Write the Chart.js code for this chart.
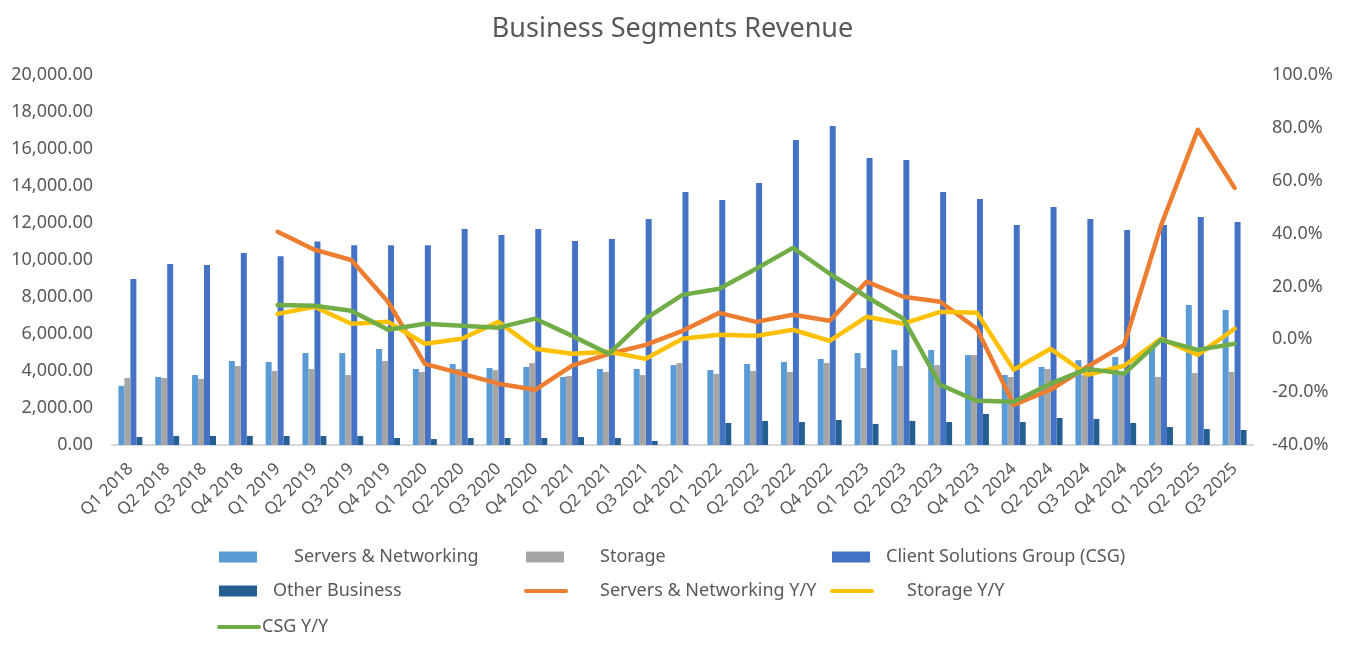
<!DOCTYPE html>
<html>
<head>
<meta charset="utf-8">
<title>Business Segments Revenue</title>
<script src="https://cdn.jsdelivr.net/npm/chart.js@4"></script>
<style>
  html, body { margin: 0; padding: 0; background: #fff; }
  #wrap { width: 1345px; height: 646px; position: relative; }
</style>
</head>
<body>
<div id="wrap"><canvas id="chart"></canvas></div>
<script>
var quarters = ['Q1 2018','Q2 2018','Q3 2018','Q4 2018','Q1 2019','Q2 2019','Q3 2019','Q4 2019',
  'Q1 2020','Q2 2020','Q3 2020','Q4 2020','Q1 2021','Q2 2021','Q3 2021','Q4 2021',
  'Q1 2022','Q2 2022','Q3 2022','Q4 2022','Q1 2023','Q2 2023','Q3 2023','Q4 2023',
  'Q1 2024','Q2 2024','Q3 2024','Q4 2024','Q1 2025','Q2 2025','Q3 2025'];

// revenue, $M
var servers = [3200, 3680, 3780, 4540, 4490, 4970, 4970, 5190,
  4110, 4380, 4160, 4220, 3680, 4110, 4110, 4320,
  4050, 4380, 4490, 4650, 4970, 5140, 5140, 4860,
  3780, 4220, 4590, 4760, 5410, 7570, 7300];
var storage = [3620, 3620, 3570, 4270, 4000, 4110, 3780, 4540,
  3950, 4110, 4050, 4430, 3730, 3950, 3780, 4430,
  3840, 4000, 3950, 4430, 4160, 4270, 4320, 4860,
  3680, 4110, 3780, 3950, 3680, 3890, 3950];
var csg = [8970, 9780, 9730, 10380, 10200, 11000, 10800, 10800,
  10800, 11680, 11350, 11680, 11030, 11140, 12220, 13680,
  13240, 14160, 16490, 17240, 15510, 15410, 13680, 13300,
  11890, 12860, 12220, 11620, 11890, 12320, 12050];
var other = [430, 490, 490, 490, 490, 490, 490, 380,
  320, 380, 380, 380, 430, 380, 220, 0,
  1190, 1300, 1240, 1350, 1140, 1300, 1240, 1680,
  1240, 1460, 1410, 1190, 970, 860, 810];

// year over year, %
var serversYoY = [null, null, null, null, 40.7, 33.9, 30.0, 14.2,
  -9.3, -13.0, -16.8, -19.1, -10.0, -5.5, -2.1, 3.2,
  10.0, 6.6, 9.3, 7.0, 21.8, 16.1, 14.2, 4.0,
  -24.8, -19.1, -10.4, -2.1, 43.0, 79.3, 57.3];
var storageYoY = [null, null, null, null, 9.6, 12.3, 5.9, 6.6,
  -1.7, 0.2, 6.6, -3.6, -5.5, -4.7, -7.4, 0.2,
  1.7, 1.3, 3.6, -0.6, 8.5, 5.9, 10.4, 10.0,
  -11.5, -3.6, -13.4, -10.0, 0.2, -5.9, 4.0];
var csgYoY = [null, null, null, null, 13.0, 12.7, 10.8, 3.6,
  5.9, 5.1, 4.4, 7.8, 1.3, -5.5, 7.8, 16.8,
  19.1, 26.7, 34.6, 24.8, 16.1, 7.8, -17.2, -23.3,
  -23.6, -16.8, -11.2, -13.0, -0.2, -4.0, -1.7];

var textColor = '#595959';
var fontFamily = '"Noto Sans", "Open Sans", sans-serif';

function barSet(label, data, color) {
  return {
    type: 'bar', label: label, data: data, yAxisID: 'y',
    backgroundColor: color, borderWidth: 0,
    categoryPercentage: 0.65, barPercentage: 1.0, order: 10
  };
}

function lineSet(label, data, color, order) {
  return {
    type: 'line', label: label, data: data, yAxisID: 'y1',
    borderColor: color, backgroundColor: color, borderWidth: 4.5,
    pointRadius: 0, tension: 0, spanGaps: false,
    borderJoinStyle: 'round', borderCapStyle: 'round', order: order
  };
}

// excel-like legend, 3 columns
var gridLegend = {
  id: 'gridLegend',
  afterDraw: function(chart, args, opts) {
    var ctx = chart.ctx;
    ctx.save();
    ctx.font = opts.fontSize + 'px ' + fontFamily;
    ctx.textBaseline = 'middle';
    ctx.fillStyle = textColor;
    chart.data.datasets.forEach(function(ds, i) {
      var col = i % 3;
      var row = Math.floor(i / 3);
      var x = opts.columns[col];
      var y = opts.rows[row];
      if (ds.type === 'line') {
        ctx.strokeStyle = ds.borderColor;
        ctx.lineWidth = 4;
        ctx.lineCap = 'round';
        ctx.beginPath();
        ctx.moveTo(x, y);
        ctx.lineTo(x + 40, y);
        ctx.stroke();
      } else {
        ctx.fillStyle = ds.backgroundColor;
        ctx.fillRect(x, y - 5.5, 38, 11);
      }
      ctx.fillStyle = textColor;
      ctx.fillText(ds.label, x + opts.textOffsets[i], y);
    });
    ctx.restore();
  }
};

var ctx = document.getElementById('chart').getContext('2d');
var chart = new Chart(ctx, {
  data: {
    labels: quarters,
    datasets: [
      barSet('Servers & Networking', servers, '#5B9BD5'),
      barSet('Storage', storage, '#A5A5A5'),
      barSet('Client Solutions Group (CSG)', csg, '#4472C4'),
      barSet('Other Business', other, '#255E91'),
      lineSet('Servers & Networking Y/Y', serversYoY, '#ED7D31', 3),
      lineSet('Storage Y/Y', storageYoY, '#FFC000', 2),
      lineSet('CSG Y/Y', csgYoY, '#70AD47', 1)
    ]
  },
  options: {
    responsive: true,
    maintainAspectRatio: false,
    animation: false,
    layout: { padding: { top: 0, left: 0, right: 0, bottom: 113 } },
    plugins: {
      legend: { display: false },
      tooltip: { enabled: false },
      title: {
        display: true,
        text: 'Business Segments Revenue',
        color: textColor,
        font: { family: fontFamily, size: 27, weight: 'normal' },
        padding: { top: 13, bottom: 29.6 }
      },
      gridLegend: {
        fontSize: 18,
        columns: [219, 526, 832],
        rows: [557, 591, 627],
        textOffsets: [75, 74, 54, 54, 74, 75, 43]
      }
    },
    scales: {
      x: {
        offset: true,
        grid: { display: false },
        border: { display: true, color: '#D9D9D9', width: 2 },
        ticks: {
          color: textColor, font: { family: fontFamily, size: 17 },
          minRotation: 45, maxRotation: 45, autoSkip: false, padding: 6
        },
        afterFit: function(scale) { scale.height = 88; }
      },
      y: {
        position: 'left',
        min: 0, max: 20000,
        grid: { display: false, drawTicks: false },
        border: { display: false },
        ticks: {
          stepSize: 2000, color: textColor, padding: 19,
          font: { family: fontFamily, size: 18 },
          callback: function(v) {
            return v.toLocaleString('en-US', { minimumFractionDigits: 2, maximumFractionDigits: 2 });
          }
        },
        afterFit: function(scale) { scale.width = 112; }
      },
      y1: {
        position: 'right',
        min: -40, max: 100,
        grid: { display: false, drawTicks: false },
        border: { display: false },
        ticks: {
          stepSize: 20, color: textColor, padding: 19,
          font: { family: fontFamily, size: 18 },
          callback: function(v) { return v.toFixed(1) + '%'; }
        },
        afterFit: function(scale) { scale.width = 92; }
      }
    }
  },
  plugins: [gridLegend]
});
</script>
</body>
</html>
